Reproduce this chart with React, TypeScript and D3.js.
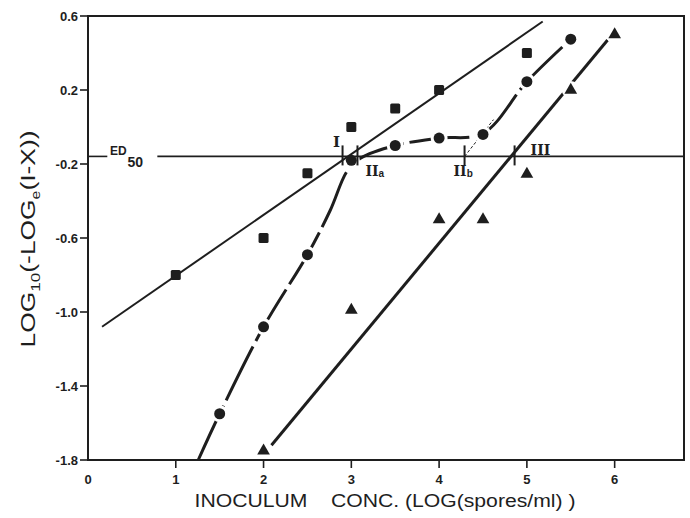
import * as d3 from "d3";

// axis ticks
const xTicks = [0, 1, 2, 3, 4, 5, 6];
const yTicks = [0.6, 0.2, -0.2, -0.6, -1.0, -1.4, -1.8];
const yTickLabels = ["0.6", "0.2", "-0.2", "-0.6", "-1.0", "-1.4", "-1.8"];

// observed points
const squareX = [1, 2, 2.5, 3, 3.5, 4, 5];
const squareY = [-0.8, -0.6, -0.25, 0.0, 0.1, 0.2, 0.4];
const circleX = [1.5, 2, 2.5, 3, 3.5, 4, 4.5, 5, 5.5];
const circleY = [-1.55, -1.08, -0.69, -0.18, -0.1, -0.06, -0.04, 0.245, 0.475];
const triangleX = [2, 3, 4, 4.5, 5, 5.5, 6];
const triangleY = [-1.75, -0.99, -0.5, -0.5, -0.255, 0.2, 0.5];

// fitted lines
const lineIX = [0.16, 5.18];
const lineIY = [-1.08, 0.57];
const lineIIIX = [2.09, 5.92];
const lineIIIY = [-1.72, 0.47];
const curveIIX = [1.256, 1.5, 2, 2.5, 2.76, 2.95, 3.1, 3.5, 4, 4.5, 5, 5.5];
const curveIIY = [-1.8, -1.55, -1.08, -0.69, -0.45, -0.24, -0.17, -0.1, -0.06, -0.035, 0.245, 0.475];
const dottedX = [4.29, 4.62];
const dottedY = [-0.159, 0.04];

// ED50 level and the marks on it
const ed50 = -0.159;
const edBreak = [0.22, 0.79];
const edMarkX = [2.9, 3.07, 4.29, 4.86];

export default function App() {
  const width = 690;
  const height = 518;

  const x = d3.scaleLinear().domain([0, 6.79]).range([88, 684]);
  const y = d3.scaleLinear().domain([-1.8, 0.6]).range([460, 16]);

  const line = d3
    .line<number[]>()
    .x((d) => x(d[0]))
    .y((d) => y(d[1]));
  const curve = d3
    .line<number[]>()
    .x((d) => x(d[0]))
    .y((d) => y(d[1]))
    .curve(d3.curveCatmullRom.alpha(0.5));

  const pts = (xs: number[], ys: number[]) => xs.map((v, i) => [v, ys[i]]);
  const tri = d3.symbol().type(d3.symbolTriangle).size(70)();

  const ink = "#1e1e1e";
  const sans = "'Liberation Sans', Arial, sans-serif";
  const serif = "'DejaVu Serif', serif";

  return (
    <svg
      width={width}
      height={height}
      style={{ position: "absolute", left: 0, top: 0, background: "#fff" }}
    >
      {/* curve II and line III (broken at markers) */}
      <path
        d={curve(pts(curveIIX, curveIIY)) || ""}
        fill="none"
        stroke={ink}
        strokeWidth={3}
        strokeDasharray="60,6"
      />
      <path
        d={line(pts(lineIIIX, lineIIIY)) || ""}
        fill="none"
        stroke={ink}
        strokeWidth={3}
      />
      <path
        d={line(pts(dottedX, dottedY)) || ""}
        fill="none"
        stroke={ink}
        strokeWidth={1}
        strokeDasharray="3,2"
      />
      {circleX.map((v, i) => (
        <circle key={"hc" + i} cx={x(v)} cy={y(circleY[i])} r={8.5} fill="#fff" />
      ))}
      {triangleX.map((v, i) => (
        <circle key={"ht" + i} cx={x(v)} cy={y(triangleY[i])} r={9} fill="#fff" />
      ))}

      {/* line I */}
      <path
        d={line(pts(lineIX, lineIY)) || ""}
        fill="none"
        stroke={ink}
        strokeWidth={2}
      />

      {/* ED50 line */}
      <line x1={x(0)} x2={x(edBreak[0])} y1={y(ed50)} y2={y(ed50)} stroke={ink} strokeWidth={1.6} />
      <line x1={x(edBreak[1])} x2={x(6.79)} y1={y(ed50)} y2={y(ed50)} stroke={ink} strokeWidth={1.6} />
      <text x={x(0.25)} y={y(ed50) - 1} fontFamily={sans} fontWeight="bold" fontSize={12} fill={ink}>
        ED
      </text>
      <text x={x(0.45)} y={y(ed50) + 11} fontFamily={sans} fontWeight="bold" fontSize={14} fill={ink}>
        50
      </text>
      {edMarkX.map((v, i) => (
        <line
          key={"em" + i}
          x1={x(v)}
          x2={x(v)}
          y1={y(ed50) - 11}
          y2={y(ed50) + 9}
          stroke={ink}
          strokeWidth={2}
        />
      ))}
      <text x={x(2.9) - 6} y={y(ed50) - 9} textAnchor="middle" fontFamily={serif} fontWeight="bold" fontSize={15} fill={ink}>
        I
      </text>
      <text x={x(3.07) + 8} y={y(ed50) + 20} fontFamily={serif} fontWeight="bold" fontSize={14} fill={ink}>
        II<tspan fontSize={10} fontFamily={sans} dy={1}>a</tspan>
      </text>
      <text x={x(4.29) - 11} y={y(ed50) + 20} fontFamily={serif} fontWeight="bold" fontSize={14} fill={ink}>
        II<tspan fontSize={10} fontFamily={sans} dy={1}>b</tspan>
      </text>
      <text x={x(4.86) + 16} y={y(ed50) - 1} fontFamily={serif} fontWeight="bold" fontSize={14} fill={ink}>
        III
      </text>

      {/* markers */}
      {squareX.map((v, i) => (
        <rect
          key={"s" + i}
          x={x(v) - 5}
          y={y(squareY[i]) - 5}
          width={10}
          height={10}
          rx={1.5}
          fill={ink}
        />
      ))}
      {circleX.map((v, i) => (
        <circle key={"c" + i} cx={x(v)} cy={y(circleY[i])} r={5.5} fill={ink} />
      ))}
      {triangleX.map((v, i) => (
        <path
          key={"t" + i}
          d={tri || ""}
          transform={`translate(${x(v)},${y(triangleY[i])})`}
          fill={ink}
        />
      ))}

      {/* frame */}
      <rect
        x={x(0)}
        y={y(0.6)}
        width={x(6.79) - x(0)}
        height={y(-1.8) - y(0.6)}
        fill="none"
        stroke={ink}
        strokeWidth={2}
      />

      {/* y axis */}
      {yTicks.map((v, i) => (
        <g key={"yt" + i}>
          <line x1={x(0) - 8} x2={x(0)} y1={y(v)} y2={y(v)} stroke={ink} strokeWidth={1.6} />
          <text
            x={x(0) - 10}
            y={y(v) + 5}
            textAnchor="end"
            fontFamily={sans}
            fontWeight="bold"
            fontSize={13}
            fill={ink}
          >
            {yTickLabels[i]}
          </text>
        </g>
      ))}

      {/* x axis */}
      {xTicks.map((v, i) => (
        <g key={"xt" + i}>
          {v > 0 && (
            <line x1={x(v)} x2={x(v)} y1={y(-1.8)} y2={y(-1.8) + 8} stroke={ink} strokeWidth={1.6} />
          )}
          <text
            x={x(v)}
            y={y(-1.8) + 24}
            textAnchor="middle"
            fontFamily={sans}
            fontWeight="bold"
            fontSize={13}
            fill={ink}
          >
            {v}
          </text>
        </g>
      ))}

      <text
        x={385}
        y={507}
        textAnchor="middle"
        fontFamily={sans}
        fontSize={18}
        textLength={381}
        lengthAdjust="spacingAndGlyphs"
        fill={ink}
        style={{ whiteSpace: "pre" }}
      >
        {"INOCULUM    CONC. (LOG(spores/ml) )"}
      </text>

      <text
        transform="translate(35,239) rotate(-90)"
        textAnchor="middle"
        fontFamily={sans}
        fontSize={20}
        textLength={217}
        lengthAdjust="spacingAndGlyphs"
        fill={ink}
      >
        LOG<tspan fontSize={13} dy={5}>10</tspan>
        <tspan dy={-5}>(-LOG</tspan>
        <tspan fontSize={12} dy={5}>e</tspan>
        <tspan dy={-5}>(I-X))</tspan>
      </text>
    </svg>
  );
}
